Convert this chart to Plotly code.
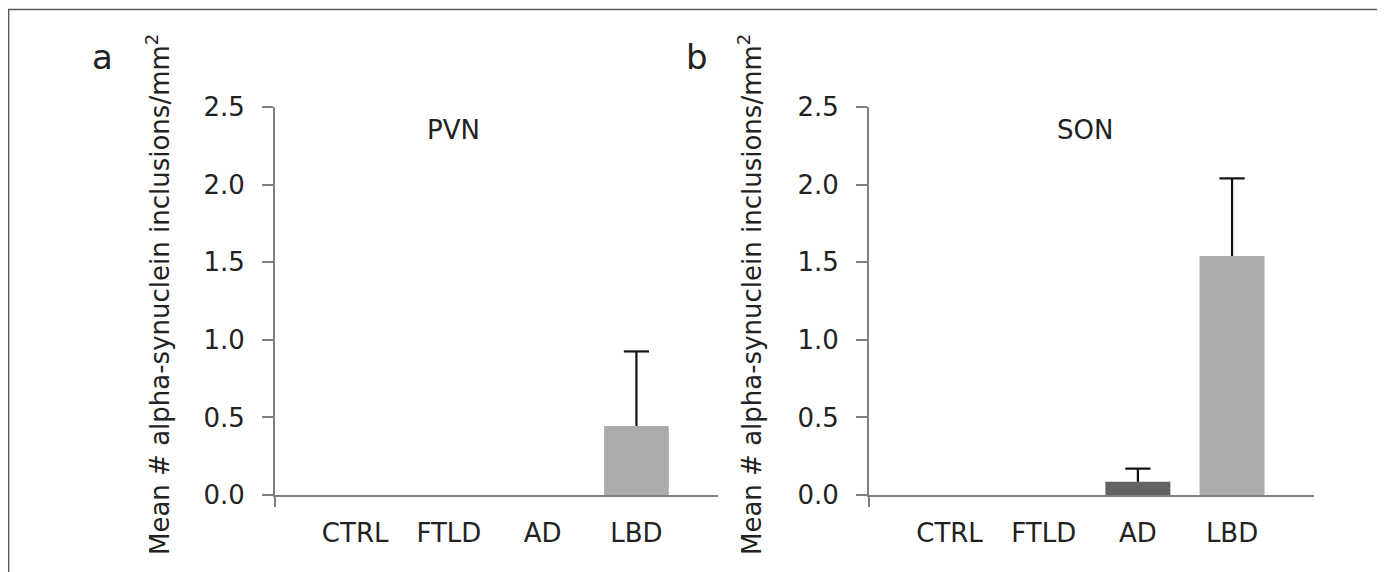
import plotly.graph_objects as go

categories = ["CTRL", "FTLD", "AD", "LBD"]
pvn_mean = [0.0, 0.0, 0.0, 0.445]
pvn_err = [0.0, 0.0, 0.0, 0.48]
son_mean = [0.0, 0.0, 0.085, 1.54]
son_err = [0.0, 0.0, 0.085, 0.50]
bar_colors = ["#8c8c8c", "#8c8c8c", "#636363", "#ababab"]
y_ticks = [0.0, 0.5, 1.0, 1.5, 2.0, 2.5]
y_title = "Mean # alpha-synuclein inclusions/mm<sup>2</sup>"

# page has an 8px body margin; the figure is sized to fit the 1385x572 window
OFF = 8
W, H = 1385 - OFF, 572 - OFF
FONT = "DejaVu Sans"
TXT = "#222222"
AX = "#808080"
ERR = "#111111"


def px(x):
    return (x - OFF) / W


def py(y):
    return (H - (y - OFF)) / H


def nz(vals):
    return [v if v > 0 else None for v in vals]


fig = go.Figure()
for i, (m, e) in enumerate([(pvn_mean, pvn_err), (son_mean, son_err)]):
    sfx = "" if i == 0 else "2"
    fig.add_trace(go.Bar(
        x=categories, y=nz(m),
        xaxis="x" + sfx, yaxis="y" + sfx,
        marker=dict(color=bar_colors, line=dict(width=0)),
        width=0.69,
        error_y=dict(type="data", array=nz(e), arrayminus=[0] * len(e),
                     symmetric=False, color=ERR, thickness=2.2, width=0),
        showlegend=False, hoverinfo="skip",
    ))
    tops = [mv + ev if ev > 0 else None for mv, ev in zip(m, e)]
    fig.add_trace(go.Scatter(
        x=categories, y=tops, mode="markers",
        xaxis="x" + sfx, yaxis="y" + sfx,
        marker=dict(symbol="line-ew", size=18, line=dict(color=ERR, width=2.2)),
        showlegend=False, hoverinfo="skip", cliponaxis=False,
    ))

ydom = [py(495), py(107)]
xr = [-0.855, 3.87]
common_x = dict(type="category", range=xr, showline=True, linecolor=AX, linewidth=2,
                ticks="", showgrid=False, zeroline=False, automargin=False,
                tickfont=dict(family=FONT, size=26, color=TXT), ticklabelstandoff=14)
common_y = dict(range=[0, 2.5], tickvals=y_ticks, ticktext=[f"{v:.1f}" for v in y_ticks],
                showline=True, linecolor=AX, linewidth=2, ticks="outside", ticklen=11,
                tickcolor=AX, tickwidth=2, showgrid=False, zeroline=False, automargin=False,
                tickfont=dict(family=FONT, size=26, color=TXT), ticklabelstandoff=12)

fig.update_layout(
    template="none",
    width=W, height=H,
    margin=dict(l=0, r=0, t=0, b=0),
    paper_bgcolor="white", plot_bgcolor="white",
    bargap=0.3,
    xaxis=dict(domain=[px(275), px(718)], anchor="y", **common_x),
    yaxis=dict(domain=ydom, anchor="x", **common_y),
    xaxis2=dict(domain=[px(869), px(1314)], anchor="y2", **common_x),
    yaxis2=dict(domain=ydom, anchor="x2", **common_y),
)

ann = []
for xc, letter, lx in [(158, "a", 102), (750, "b", 697)]:
    ann.append(dict(x=px(xc), y=py(295), xref="paper", yref="paper", text=y_title,
                    textangle=-90, showarrow=False, font=dict(family=FONT, size=26, color=TXT),
                    xanchor="center", yanchor="middle"))
    ann.append(dict(x=px(lx), y=py(57), xref="paper", yref="paper", text=letter,
                    showarrow=False, font=dict(family=FONT, size=34, color=TXT),
                    xanchor="center", yanchor="middle"))
ann.append(dict(x=px(453), y=py(130), xref="paper", yref="paper", text="PVN",
                showarrow=False, font=dict(family=FONT, size=26, color=TXT),
                xanchor="center", yanchor="middle"))
ann.append(dict(x=px(1085), y=py(130), xref="paper", yref="paper", text="SON",
                showarrow=False, font=dict(family=FONT, size=26, color=TXT),
                xanchor="center", yanchor="middle"))
fig.update_layout(annotations=ann)

# small downward extension of each y axis below the category axis
for sfx in ["", "2"]:
    fig.add_shape(type="line", xref=f"x{sfx} domain", yref=f"y{sfx} domain",
                  x0=0, x1=0, y0=0, y1=-12 / 388, line=dict(color=AX, width=2))

# outer frame
fig.add_shape(type="rect", xref="paper", yref="paper", x0=0.6 / W, x1=px(1382),
              y0=-0.05, y1=py(9.5), line=dict(color="#555555", width=1.5),
              fillcolor="rgba(0,0,0,0)", layer="above")

fig.write_html("out.html")
